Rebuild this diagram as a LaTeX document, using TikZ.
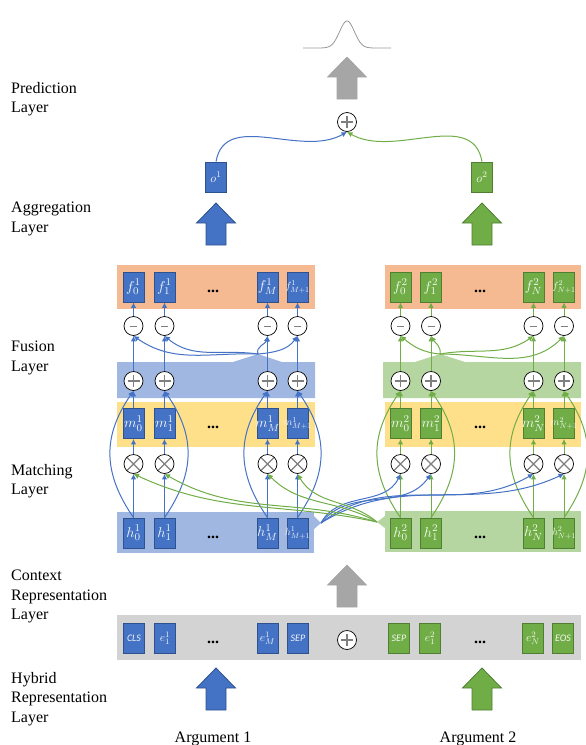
\documentclass[tikz,border=0pt]{standalone}
\usepackage{fontspec}
\setmainfont{Liberation Serif}
\newfontfamily\boxfont{Carlito}
\usepackage{graphicx}
\usepackage{tikz}
\usetikzlibrary{calc}
\usetikzlibrary{arrows.meta}

\definecolor{argblue}{HTML}{4472C4}
\definecolor{blueedge}{HTML}{2F528F}
\definecolor{arggreen}{HTML}{70AD47}
\definecolor{greenedge}{HTML}{507E32}
\definecolor{orangeband}{HTML}{F5BA91}
\definecolor{blueband}{HTML}{A0B7E1}
\definecolor{greenband}{HTML}{B5D6A0}
\definecolor{yellowband}{HTML}{FFE08A}
\definecolor{grayband}{HTML}{D3D3D3}
\definecolor{arrowgray}{HTML}{A6A6A6}
\definecolor{signgray}{HTML}{7F7F7F}

\tikzset{
  bigarrow/.pic={\path[pic actions] (0,0) -- (19.5,-20) -- (10,-20) -- (10,-42) -- (-10,-42) -- (-10,-20) -- (-19.5,-20) -- cycle;}
}

\begin{document}
\begin{tikzpicture}[x=1pt, y=1pt, >={Latex[length=5.5pt,width=5.5pt]},
  bbox/.style={draw=blueedge, fill=argblue, line width=0.8pt, minimum width=21pt, minimum height=30pt, inner sep=0pt, text=white!92!argblue, font=\fontsize{11}{13}\selectfont},
  gbox/.style={bbox, draw=greenedge, fill=arggreen, text=white!92!arggreen},
  opc/.style={circle, draw=black, fill=white, line width=0.7pt, minimum size=19pt, inner sep=0pt},
  opsign/.style={draw=signgray, line width=1.2pt},
  addop/.style={opc, path picture={\draw[opsign] ([xshift=-6pt]path picture bounding box.center) -- ([xshift=6pt]path picture bounding box.center) ([yshift=-6pt]path picture bounding box.center) -- ([yshift=6pt]path picture bounding box.center);}},
  subop/.style={opc, path picture={\draw[opsign, line width=0.8pt] ([xshift=-3.5pt]path picture bounding box.center) -- ([xshift=3.5pt]path picture bounding box.center);}},
  mulop/.style={opc, path picture={\draw[opsign] ([shift={(-6.7pt,-6.7pt)}]path picture bounding box.center) -- ([shift={(6.7pt,6.7pt)}]path picture bounding box.center) ([shift={(-6.7pt,6.7pt)}]path picture bounding box.center) -- ([shift={(6.7pt,-6.7pt)}]path picture bounding box.center);}},
  bconn/.style={->, draw=argblue, line width=1pt},
  gconn/.style={->, draw=arggreen, line width=1pt},
  lbl/.style={anchor=north west, align=left, inner sep=0pt, font=\fontsize{16}{19.5}\selectfont},
  dots/.style={inner sep=0pt, font=\fontsize{16}{19}\selectfont\bfseries}
]
\useasboundingbox (0,0) rectangle (586,-745);

% bands
\fill[orangeband] (117,-265) rectangle (315,-309);
\fill[orangeband] (385,-265) rectangle (581,-309);
\fill[blueband] (117,-362) -- (233,-362) -- (258,-354) -- (282,-362) -- (315,-362) -- (315,-398) -- (117,-398) -- cycle;
\fill[greenband] (383,-362) -- (415,-362) -- (440,-354) -- (465,-362) -- (581,-362) -- (581,-398) -- (383,-398) -- cycle;
\fill[yellowband] (117,-402) rectangle (315,-447);
\fill[yellowband] (385,-402) rectangle (581,-447);
\fill[blueband] (117,-512) rectangle (314,-553);
\fill[blueband] (314,-516) -- (321,-523) -- (314,-529) -- cycle;
\fill[greenband] (385,-511) rectangle (581,-552);
\fill[greenband] (385,-516) -- (377,-522) -- (385,-528) -- cycle;
\fill[grayband] (117,-615) rectangle (581,-660);

\coordinate (lt) at (321,-523);
\coordinate (rt) at (377,-522);
\coordinate (la) at (258,-354);
\coordinate (ra) at (440,-354);

% layer names
\node[lbl] (lpred) at (11,-82) {Prediction\\Layer};
\node[lbl] (lagg) at (11,-202) {Aggregation\\Layer};
\node[lbl] (lfus) at (11,-341) {Fusion\\Layer};
\node[lbl] (lmat) at (11,-464) {Matching\\Layer};
\node[lbl] (lctx) at (11,-570) {Context\\Representation\\Layer};
\node[lbl] (lhyb) at (11,-672) {Hybrid\\Representation\\Layer};
\node[font=\fontsize{16}{19}\selectfont, anchor=base] (arg1) at (213,-742) {Argument 1};
\node[font=\fontsize{16}{19}\selectfont, anchor=base] (arg2) at (478,-742) {Argument 2};

% argument 1 columns
\foreach \i/\x/\s/\d/\z in {0/133.5/0/-1/1.3, 1/164.5/1/1/1.3, M/267.5/M/-1/1.3, P/297.5/M+1/1/0.95} {
  \node[bbox] (f1\i) at (\x,-287) {\makebox[0pt]{\scalebox{\z}{$f_{\s}^{1}$}}};
  \node[subop] (n1\i) at (\x,-326) {};
  \node[addop] (p1\i) at (\x,-381) {};
  \node[bbox] (m1\i) at (\x,-423.5) {\makebox[0pt]{\scalebox{\z}{$m_{\s}^{1}$}}};
  \node[mulop] (x1\i) at (\x,-464) {};
  \node[bbox] (h1\i) at (\x,-533) {\makebox[0pt]{\scalebox{\z}{$h_{\s}^{1}$}}};
  \draw[bconn] (h1\i) -- (x1\i);
  \draw[bconn] (x1\i) -- (m1\i);
  \draw[bconn] (m1\i) -- (p1\i);
  \draw[bconn] (p1\i) -- (n1\i);
  \draw[bconn] (n1\i) -- (f1\i);
  \draw[bconn] (h1\i.north) .. controls +({\d*31},45) and +({\d*31},-45) .. (p1\i.south);
}

% argument 2 columns
\foreach \i/\x/\s/\d/\z in {0/400.5/0/-1/1.3, 1/431/1/1/1.3, N/533.5/N/-1/1.3, P/564/N+1/1/0.95} {
  \node[gbox] (f2\i) at (\x,-287) {\makebox[0pt]{\scalebox{\z}{$f_{\s}^{2}$}}};
  \node[subop] (n2\i) at (\x,-326) {};
  \node[addop] (p2\i) at (\x,-381) {};
  \node[gbox] (m2\i) at (\x,-423.5) {\makebox[0pt]{\scalebox{\z}{$m_{\s}^{2}$}}};
  \node[mulop] (x2\i) at (\x,-464) {};
  \node[gbox] (h2\i) at (\x,-533) {\makebox[0pt]{\scalebox{\z}{$h_{\s}^{2}$}}};
  \draw[gconn] (h2\i) -- (x2\i);
  \draw[gconn] (x2\i) -- (m2\i);
  \draw[gconn] (m2\i) -- (p2\i);
  \draw[gconn] (p2\i) -- (n2\i);
  \draw[gconn] (n2\i) -- (f2\i);
  \draw[gconn] (h2\i.north) .. controls +({\d*31},45) and +({\d*31},-45) .. (p2\i.south);
}

% dots
\foreach \y in {287,423.5,533} {
  \node[dots] at (213,-\y-4) {...};
  \node[dots] at (480,-\y-4) {...};
}

% matching across arguments
\foreach \i/\o/\n in {0/62/-115, 1/52/-125, N/38/-150, P/32/-155}
  \draw[bconn] (lt) to[out=\o,in=\n] (x2\i.south);
\foreach \i/\o/\n in {0/168/-25, 1/163/-30, M/150/-45, P/140/-60}
  \draw[gconn] (rt) to[out=\o,in=\n] (x1\i.south);

% fusion
\foreach \i/\o/\n in {0/178/-35, 1/172/-40, M/110/-100, P/5/-125}
  \draw[bconn] (la) to[out=\o,in=\n] (n1\i.south);
\foreach \i/\o/\n in {0/175/-40, 1/80/-60, N/10/-145, P/0/-135}
  \draw[gconn] (ra) to[out=\o,in=\n] (n2\i.south);

% aggregation and prediction
\pic[fill=argblue, draw=blueedge, line width=0.8pt] at (216,-203) {bigarrow};
\pic[fill=arggreen, draw=greenedge, line width=0.8pt] at (482,-203) {bigarrow};
\node[bbox] (o1) at (216,-177) {\scalebox{1.1}{$o^{1}$}};
\node[gbox] (o2) at (482,-177) {\scalebox{1.1}{$o^{2}$}};
\node[addop] (top) at (347,-122) {};
\draw[bconn] (o1.north) to[out=80,in=210] (top.south);
\draw[gconn] (o2.north) to[out=100,in=-30] (top.south);
\pic[fill=arrowgray, draw=signgray!70, line width=0.6pt] at (347,-57) {bigarrow};
\draw[signgray!80, line width=0.8pt] plot[domain=303:391, samples=90, smooth] (\x,{-48+27*exp(-(\x-347)^2/110)});

% hybrid representation
\pic[fill=arrowgray, draw=signgray!70, line width=0.6pt] at (347,-565) {bigarrow};
\node[bbox, font=\fontsize{10}{12}\selectfont\boxfont\itshape] (cls) at (134,-638) {CLS};
\node[bbox] (e11) at (165,-638) {\scalebox{1.05}{$e_{1}^{1}$}};
\node[bbox] (e1M) at (267.5,-638) {\scalebox{1.05}{$e_{M}^{1}$}};
\node[bbox, font=\fontsize{10}{12}\selectfont\boxfont\itshape] (sep1) at (298,-638) {SEP};
\node[addop] (cat) at (347,-640) {};
\node[gbox, font=\fontsize{10}{12}\selectfont\boxfont\itshape] (sep2) at (399,-638) {SEP};
\node[gbox] (e21) at (430,-638) {\scalebox{1.05}{$e_{1}^{2}$}};
\node[gbox] (e2N) at (533,-638) {\scalebox{1.05}{$e_{N}^{2}$}};
\node[gbox, font=\fontsize{10}{12}\selectfont\boxfont\itshape] (eos) at (563,-638) {EOS};
\node[dots] (d1) at (213,-642) {...};
\node[dots] (d2) at (480,-642) {...};
\pic[fill=argblue, draw=blueedge, line width=0.8pt] at (216,-668) {bigarrow};
\pic[fill=arggreen, draw=greenedge, line width=0.8pt] at (482,-668) {bigarrow};

\end{tikzpicture}
\end{document}
